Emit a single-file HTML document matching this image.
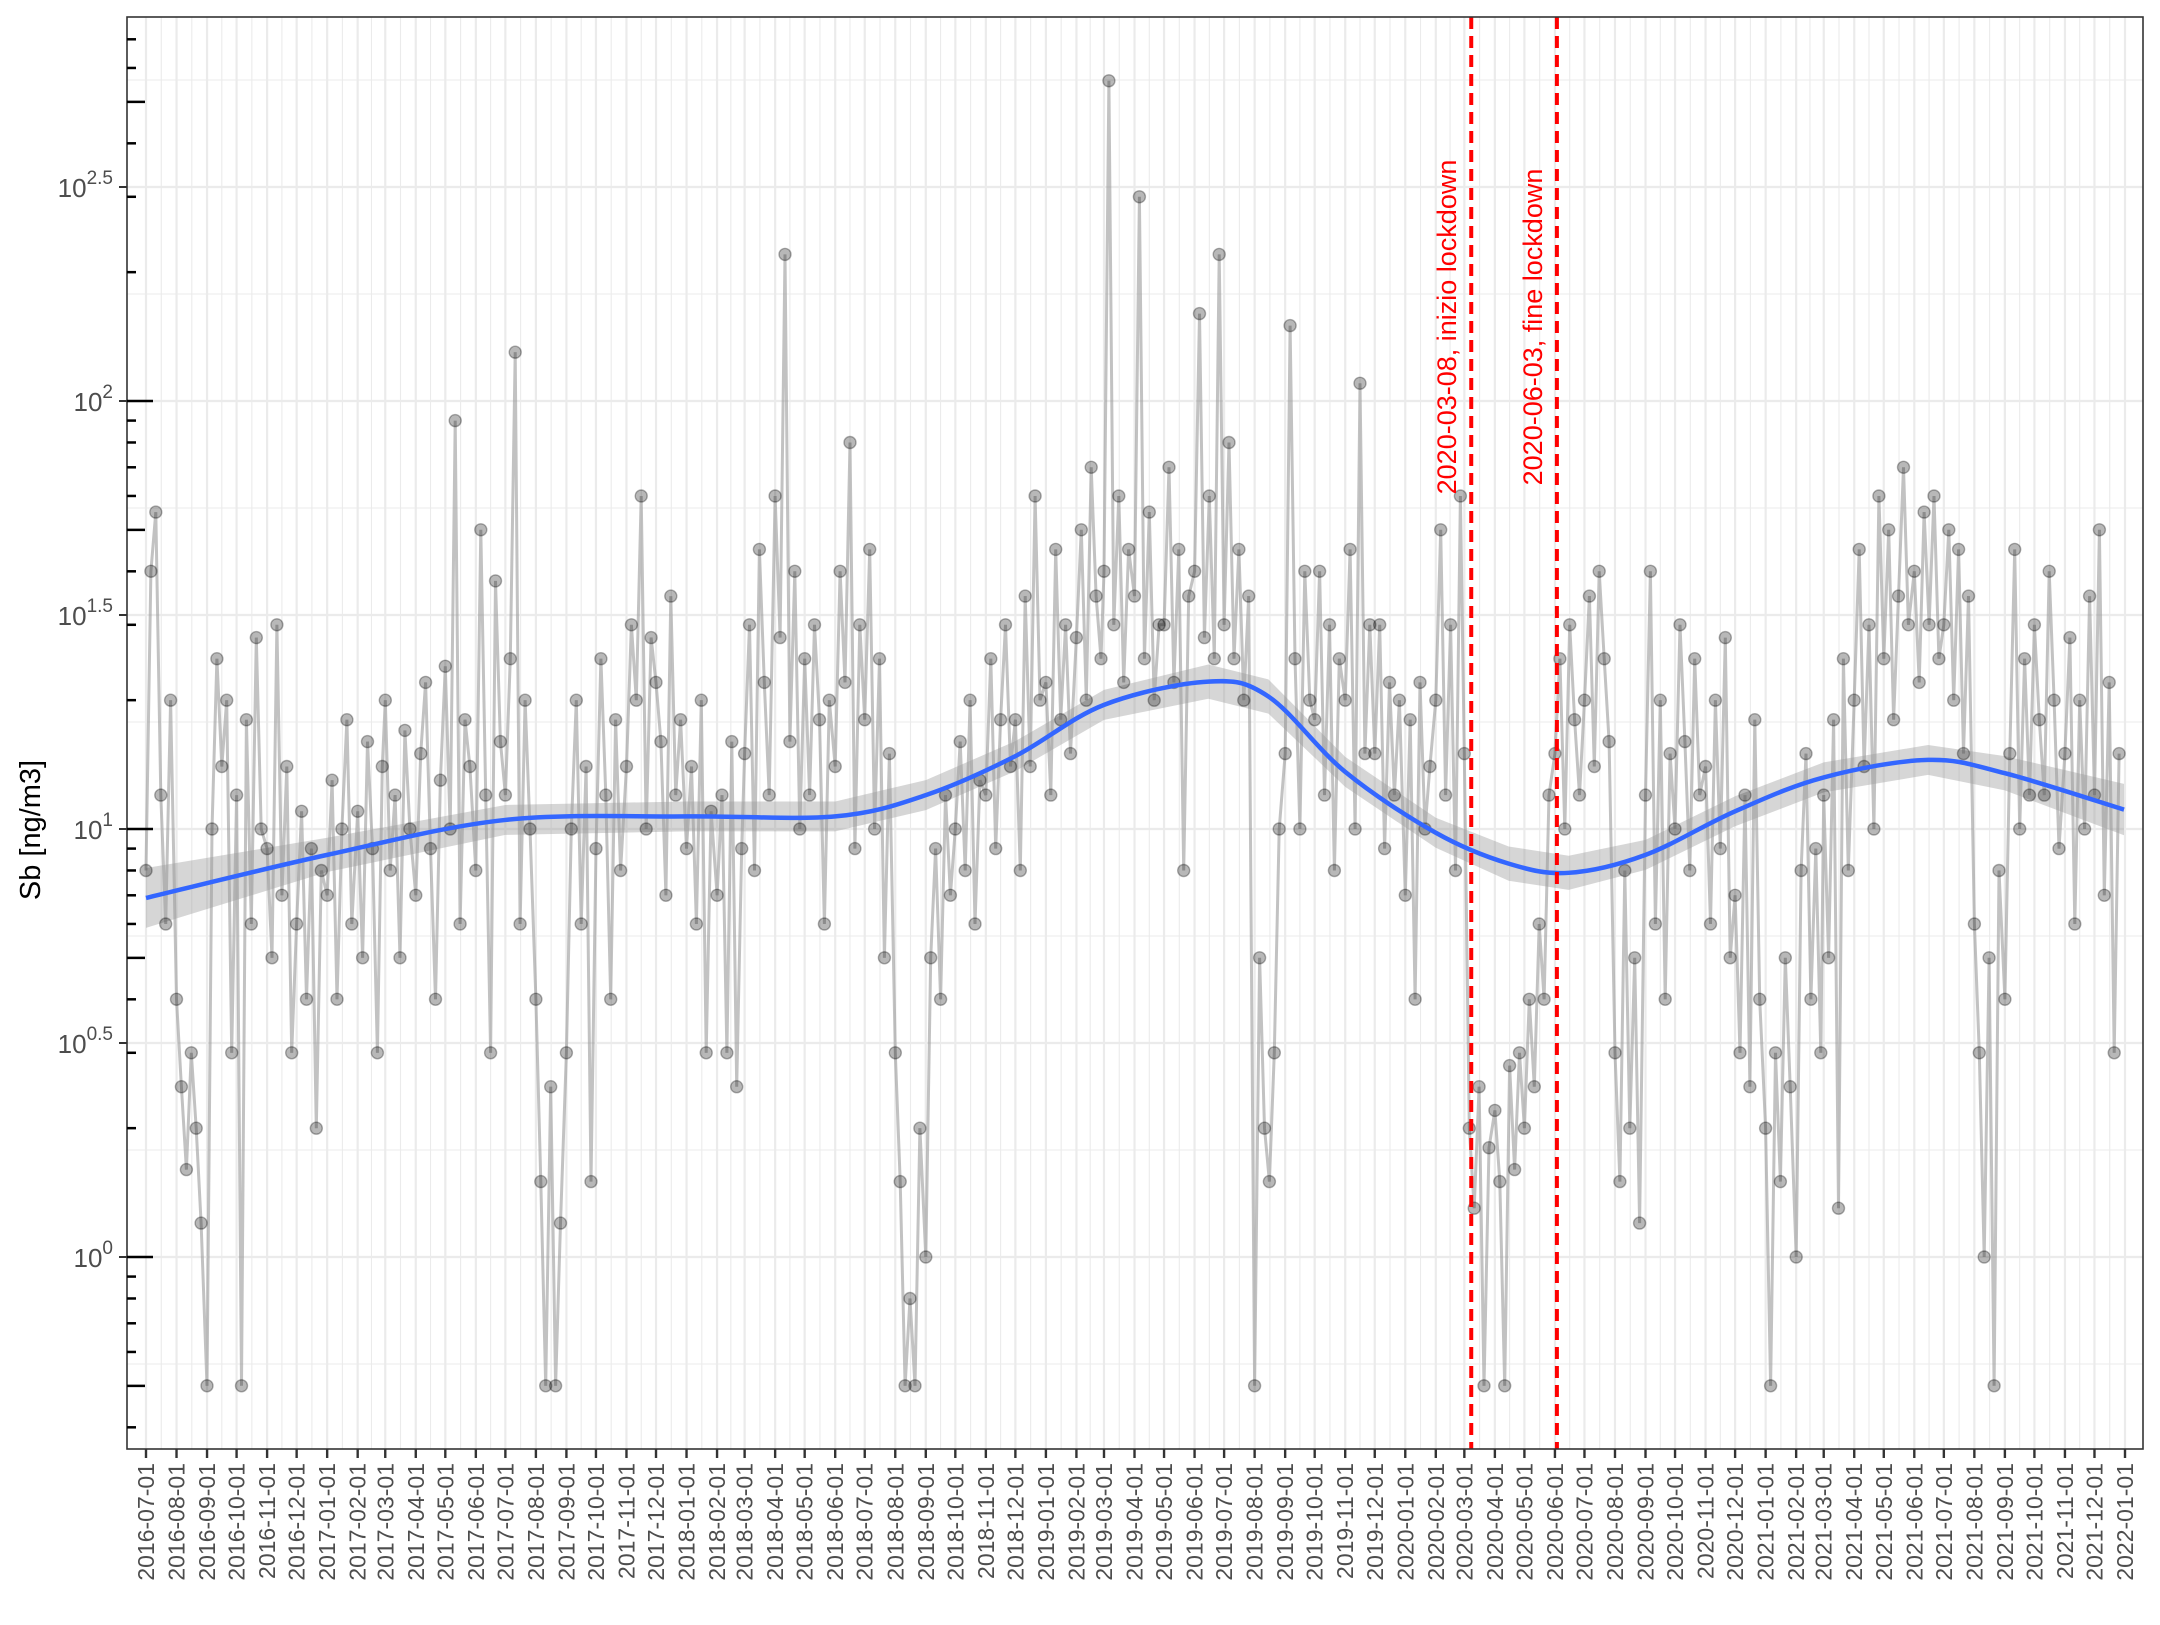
<!DOCTYPE html>
<html><head><meta charset="utf-8"><style>
html,body{margin:0;padding:0;background:#fff;}
svg text{font-family:"Liberation Sans",Arial,sans-serif;}
</style></head><body>
<svg id="chart" width="2160" height="1620" viewBox="0 0 2160 1620" xmlns="http://www.w3.org/2000/svg">
<rect x="0" y="0" width="2160" height="1620" fill="#fff"/>
<g id="grid"></g>
<g id="ribbon"></g>
<g id="series"></g>
<g id="smooth"></g>
<g id="events"></g>
<g id="axes"></g>
<text transform="translate(40,830) rotate(-90)" text-anchor="middle" font-size="29" fill="#000">Sb [ng/m3]</text>
</svg>
<script>
// ---- data ----
const monthLabels = ["2016-07","2016-08","2016-09","2016-10","2016-11","2016-12","2017-01","2017-02","2017-03","2017-04","2017-05","2017-06","2017-07","2017-08","2017-09","2017-10","2017-11","2017-12","2018-01","2018-02","2018-03","2018-04","2018-05","2018-06","2018-07","2018-08","2018-09","2018-10","2018-11","2018-12","2019-01","2019-02","2019-03","2019-04","2019-05","2019-06","2019-07","2019-08","2019-09","2019-10","2019-11","2019-12","2020-01","2020-02","2020-03","2020-04","2020-05","2020-06","2020-07","2020-08","2020-09","2020-10","2020-11","2020-12","2021-01","2021-02","2021-03","2021-04","2021-05","2021-06","2021-07","2021-08","2021-09","2021-10","2021-11","2021-12"];
const sampleDays = [1,6,11,16,21,26];
const sbValues = [
8,40,55,12,6,20, 4,2.5,1.6,3,2,1.2, 0.5,10,25,14,20,3, 12,0.5,18,6,28,10, 9,5,30,7,14,3, 6,11,4,9,2,8,
7,13,4,10,18,6, 11,5,16,9,3,14, 20,8,12,5,17,10, 7,15,22,9,4,13, 24,10,90,6,18,14, 8,50,12,3,38,16,
12,25,130,6,20,10, 4,1.5,0.5,2.5,0.5,1.2, 3,10,20,6,14,1.5, 9,25,12,4,18,8, 14,30,20,60,10,28, 22,16,7,35,12,18,
9,14,6,20,3,11, 7,12,3,16,2.5,9, 15,30,8,45,22,12, 60,28,220,16,40,10, 25,12,30,18,6,20, 14,40,22,80,9,30,
18,45,10,25,5,15, 3,1.5,0.5,0.8,0.5,2, 1,5,9,4,12,7, 10,16,8,20,6,13, 12,25,9,18,30,14, 18,8,35,14,60,20,
22,12,45,18,30,15, 28,50,20,70,35,25, 40,560,30,60,22,45, 35,300,25,55,20,30, 30,70,22,45,8,35, 40,160,28,60,25,220,
30,80,25,45,20,35, 0.5,5,2,1.5,3,10, 15,150,25,10,40,20, 18,40,12,30,8,25, 20,45,10,110,15,30, 15,30,9,22,12,20,
7,18,4,22,10,14, 20,50,12,30,8,60, 15,2,1.3,2.5,0.5,1.8, 2.2,1.5,0.5,2.8,1.6,3, 2,4,2.5,6,4,12, 15,25,10,30,18,12,
20,35,14,40,25,16, 3,1.5,8,2,5,1.2, 12,40,6,20,4,15, 10,30,16,8,25,12, 14,6,20,9,28,5, 7,3,12,2.5,18,4,
2,0.5,3,1.5,5,2.5, 1,8,15,4,9,3, 12,5,18,1.3,25,8, 20,45,14,30,10,60, 25,50,18,35,70,30, 40,22,55,30,60,25,
30,50,20,45,15,35, 6,3,1,5,0.5,8, 4,15,45,10,25,12, 30,18,12,40,20,9, 15,28,6,20,10,35, 12,50,7,22,3,15];
const smoothDates = ["2016-07-01","2017-01-01","2017-07-01","2018-01-01","2018-06-01","2018-09-01","2018-12-01","2019-03-01","2019-06-15","2019-08-15","2019-11-01","2020-02-01","2020-04-15","2020-06-15","2020-09-01","2020-12-01","2021-03-01","2021-06-15","2021-09-01","2021-12-31"];
const smoothValues = [6.9,8.7,10.5,10.7,10.7,12.0,14.8,19.5,22.1,20.4,13.6,9.8,8.3,7.9,8.7,11.0,13.2,14.5,13.5,11.1];
const smoothSE = [0.07,0.04,0.035,0.035,0.035,0.035,0.035,0.035,0.04,0.04,0.035,0.035,0.04,0.04,0.035,0.035,0.035,0.035,0.04,0.06];
const tickMonths = monthLabels.concat(["2022-01"]);
const yTickExps = ["0","0.5","1","1.5","2","2.5"];
const events = [["2020-03-08","2020-03-08, inizio lockdown"],["2020-06-03","2020-06-03, fine lockdown"]];

// ---- scales ----
const NS="http://www.w3.org/2000/svg";
const PL=127,PT=17,PR=2143,PB=1449;
const t0=Date.parse("2016-07-01"),t1=Date.parse("2022-01-01");
const X0=146,X1=2125;
function xs(d){return X0+(Date.parse(d)-t0)/(t1-t0)*(X1-X0);}
function ys(v){return 1257-428*Math.log10(v);}
function mk(tag,attrs,parent){const e=document.createElementNS(NS,tag);for(const k in attrs)e.setAttribute(k,attrs[k]);parent.appendChild(e);return e;}
function pad(n){return n<10?"0"+n:""+n;}

const grid=document.getElementById('grid');
mk('rect',{x:PL,y:PT,width:PR-PL,height:PB-PT,fill:'#fff'},grid);
for(let e=-0.5;e<=3;e+=0.25){const y=1257-428*e;if(y<PT||y>PB)continue;
 const major=Math.abs(e*2-Math.round(e*2))<1e-6;
 const l=mk('line',{x1:PL,x2:PR,y1:y,y2:y,stroke:'#ebebeb','stroke-width':major?2.2:1.1},grid);
 
 }
for(let i=0;i<tickMonths.length;i++){const x=xs(tickMonths[i]+"-01");
 const l=mk('line',{x1:x,x2:x,y1:PT,y2:PB,stroke:'#ebebeb','stroke-width':2.2},grid);
 
 
 if(i<tickMonths.length-1){const xm=(x+xs(tickMonths[i+1]+"-01"))/2;
  const m=mk('line',{x1:xm,x2:xm,y1:PT,y2:PB,stroke:'#ebebeb','stroke-width':1.1},grid);
  
  }}

const rib=document.getElementById('ribbon');
let up=[],dn=[];
for(let i=0;i<smoothDates.length;i++){const x=xs(smoothDates[i]);const lv=Math.log10(smoothValues[i]);
 up.push(x+","+ys(Math.pow(10,lv+smoothSE[i])));dn.unshift(x+","+ys(Math.pow(10,lv-smoothSE[i])));}
const rp=mk('polygon',{points:up.concat(dn).join(" "),fill:'#999','fill-opacity':0.4},rib);



const ser=document.getElementById('series');
let pts=[];
for(let i=0;i<sbValues.length;i++){const m=monthLabels[Math.floor(i/6)];const d=m+"-"+pad(sampleDays[i%6]);pts.push([xs(d),ys(sbValues[i])]);}
const pl=mk('polyline',{points:pts.map(p=>p[0].toFixed(1)+","+p[1].toFixed(1)).join(" "),fill:'none',stroke:'#999','stroke-opacity':0.6,'stroke-width':3},ser);


for(const p of pts){const c=mk('circle',{cx:p[0].toFixed(1),cy:p[1].toFixed(1),r:6,fill:'#000','fill-opacity':0.28,stroke:'#000','stroke-opacity':0.3,'stroke-width':1.4},ser);
 
 }

const sm=document.getElementById('smooth');
const sp=smoothDates.map((d,i)=>[xs(d),ys(smoothValues[i])]);
let dpath="M"+sp[0][0]+","+sp[0][1];
for(let i=0;i<sp.length-1;i++){const p0=sp[Math.max(0,i-1)],p1=sp[i],p2=sp[i+1],p3=sp[Math.min(sp.length-1,i+2)];
 dpath+=" C"+(p1[0]+(p2[0]-p0[0])/6)+","+(p1[1]+(p2[1]-p0[1])/6)+" "+(p2[0]-(p3[0]-p1[0])/6)+","+(p2[1]-(p3[1]-p1[1])/6)+" "+p2[0]+","+p2[1];}
const sl=mk('path',{d:dpath,fill:'none',stroke:'#3366ff','stroke-width':4.5},sm);



const ev=document.getElementById('events');
for(const e of events){const x=xs(e[0]);
 const l=mk('line',{x1:x,x2:x,y1:PT,y2:PB,stroke:'#ff0000','stroke-width':4,'stroke-dasharray':'12 7'},ev);
 
 
 const t=mk('text',{transform:"translate("+(x-15)+",327) rotate(-90)",'text-anchor':'middle','font-size':27,fill:'#ff0000'},ev);
 t.textContent=e[1];
 
 }

const ax=document.getElementById('axes');
const fr=mk('rect',{x:PL,y:PT,width:PR-PL,height:PB-PT,fill:'none',stroke:'#333','stroke-width':1.6},ax);


for(const e of yTickExps){const y=ys(Math.pow(10,parseFloat(e)));
 mk('line',{x1:PL-8,x2:PL,y1:y,y2:y,stroke:'#333','stroke-width':2},ax);
 const t=mk('text',{x:PL-14,y:y+10,'text-anchor':'end','font-size':26,fill:'#4d4d4d'},ax);
 t.innerHTML='10<tspan dy="-13" font-size="19">'+e+'</tspan>';
 
 }
for(let k=-1;k<=2;k++){for(let m=1;m<=9;m++){const v=m*Math.pow(10,k);const y=ys(v);if(y<PT||y>PB)continue;
 const len=m===1?26:(m===5?18:9);
 const l=mk('line',{x1:PL,x2:PL+len,y1:y,y2:y,stroke:'#000','stroke-width':2.5},ax);
 
 }}
for(const m of tickMonths){const d=m+"-01";const x=xs(d);
 mk('line',{x1:x,x2:x,y1:PB,y2:PB+9,stroke:'#333','stroke-width':2.4},ax);
 const t=mk('text',{transform:"translate("+(x+8)+","+(PB+14)+") rotate(-90)",'text-anchor':'end','font-size':23,fill:'#4d4d4d'},ax);
 t.textContent=d;
 
 }
</script>
</body></html>
